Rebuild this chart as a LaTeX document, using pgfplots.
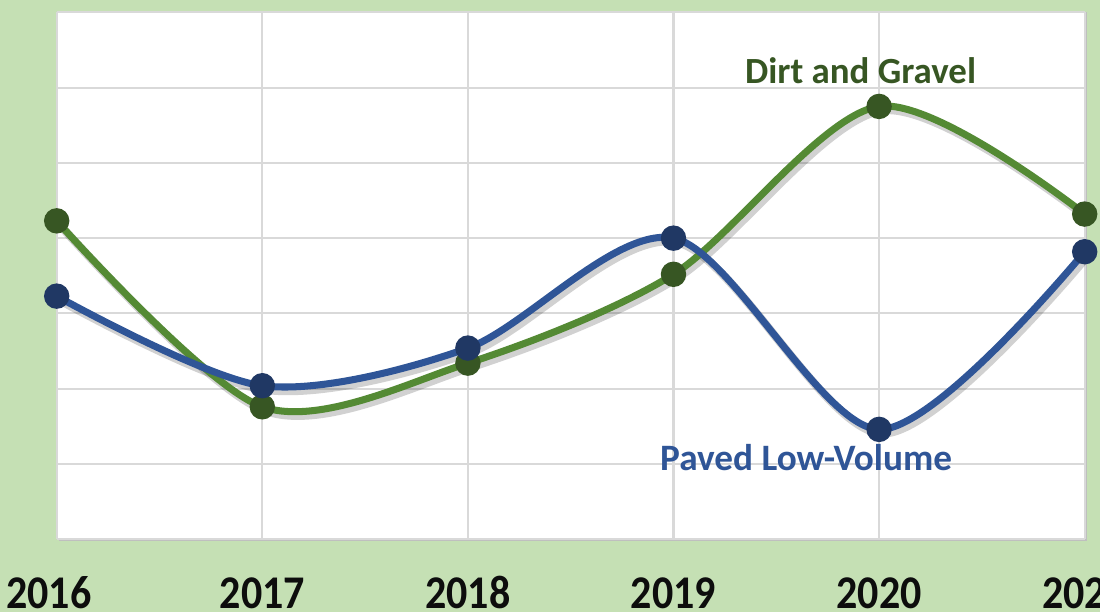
\documentclass[border=0pt]{standalone}
\usepackage{fontspec}
\setmainfont{Carlito}
\usepackage{graphicx}
\usepackage{pgfplots}
\pgfplotsset{compat=1.18}
\definecolor{bgg}{RGB}{197,224,180}
\definecolor{gline}{RGB}{84,138,52}
\definecolor{gmark}{RGB}{55,86,35}
\definecolor{bline}{RGB}{47,85,151}
\definecolor{bmark}{RGB}{32,56,100}
\definecolor{gridc}{RGB}{217,217,217}
\newcommand{\yl}[1]{\scalebox{1.03}[1.15]{#1}}
\begin{document}
\begin{tikzpicture}
\fill[bgg] (0,0) rectangle (11cm,6.12cm);
\fill[black!25] (0.587cm,0.707cm) rectangle (10.87cm,6.0cm);
\begin{axis}[
  at={(0.567cm,0.727cm)}, anchor=south west,
  scale only axis, width=10.28cm, height=5.27cm,
  xmin=2016, xmax=2021, ymin=0, ymax=7,
  axis background/.style={fill=white},
  axis line style={draw=none},
  xtick={2016,2017,2018,2019,2020,2021},
  xticklabels={\hspace*{-0.16cm}\yl{2016},\yl{2017},\yl{2018},\yl{2019},\yl{2020},\yl{2021}},
  ytick={0,1,2,3,4,5,6,7}, yticklabels={},
  major tick length=0pt,
  grid=major, major grid style={gridc, line width=0.6pt},
  xticklabel style={anchor=base, inner sep=0pt, yshift=-0.69cm, font=\bfseries\fontsize{11.6}{11.6}\selectfont, text=black!95},
  clip=false,
]
% shadows
\addplot[smooth, tension=0.5, line width=2.4pt, black, opacity=0.18, xshift=0.03cm, yshift=-0.04cm] coordinates {
 (2016,4.23) (2017,1.76) (2018,2.34) (2019,3.52) (2020,5.75) (2021,4.32)};
\addplot[smooth, tension=0.5, line width=2.4pt, black, opacity=0.18, xshift=0.03cm, yshift=-0.04cm] coordinates {
 (2016,3.23) (2017,2.04) (2018,2.54) (2019,4.00) (2020,1.46) (2021,3.82)};
% Dirt and Gravel
\addplot[smooth, tension=0.5, line width=2pt, gline, mark=*, mark size=2.6pt, mark options={fill=gmark, draw=gmark}] coordinates {
 (2016,4.23) (2017,1.76) (2018,2.34) (2019,3.52) (2020,5.75) (2021,4.32)};
% Paved Low-Volume
\addplot[smooth, tension=0.5, line width=2pt, bline, mark=*, mark size=2.6pt, mark options={fill=bmark, draw=bmark}] coordinates {
 (2016,3.23) (2017,2.04) (2018,2.54) (2019,4.00) (2020,1.46) (2021,3.82)};
\node[anchor=base, text=gmark, font=\bfseries\fontsize{10.5}{10.5}\selectfont] at (axis cs:2019.91,6.06) {Dirt and Gravel};
\node[anchor=base, text=bline, font=\bfseries\fontsize{10.6}{10.6}\selectfont] at (axis cs:2019.645,0.92) {Paved Low-Volume};
\end{axis}
\pgfresetboundingbox
\useasboundingbox (0,0) rectangle (11cm,6.12cm);
\end{tikzpicture}
\end{document}
